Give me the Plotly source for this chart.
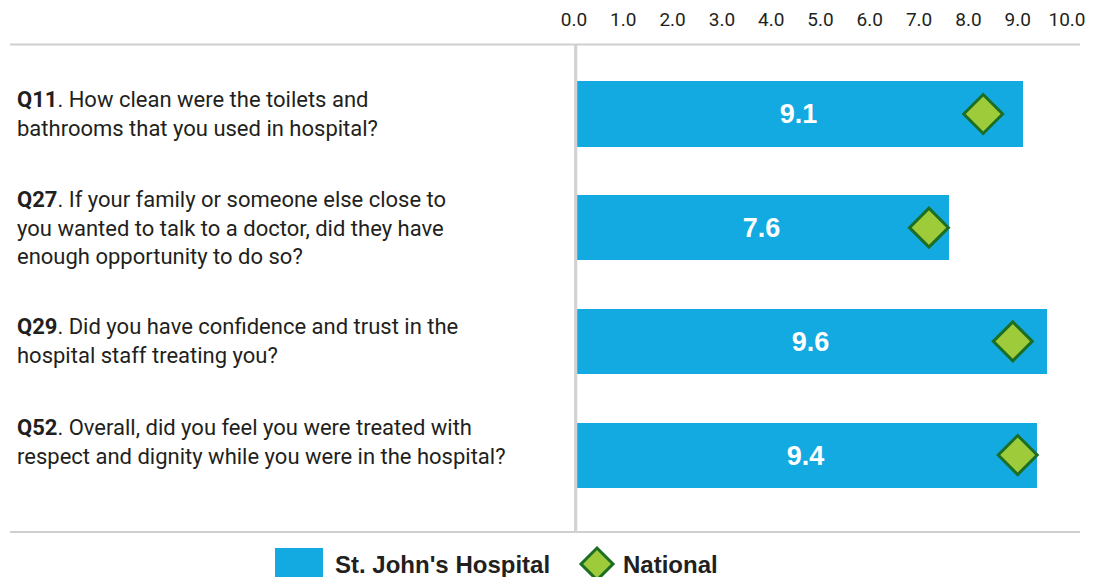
import plotly.graph_objects as go

# Survey results: hospital score vs national average (0-10 scale)
question_codes = ["Q11", "Q27", "Q29", "Q52"]
question_texts = [
    "How clean were the toilets and<br>bathrooms that you used in hospital?",
    "If your family or someone else close to<br>you wanted to talk to a doctor, did they have<br>enough opportunity to do so?",
    "Did you have confidence and trust in the<br>hospital staff treating you?",
    "Overall, did you feel you were treated with<br>respect and dignity while you were in the hospital?",
]
hospital_scores = [9.1, 7.6, 9.6, 9.4]
national_scores = [8.3, 7.2, 8.9, 9.0]
tick_values = [0, 1, 2, 3, 4, 5, 6, 7, 8, 9, 10]

W, H = 1094, 577
BLUE = "#13aae2"
GREEN_FILL = "#9dcb3a"
GREEN_LINE = "#1b6e24"
GREY = "#cfcfcf"
TEXT = "#231f20"
FONT = "Roboto, 'Liberation Sans', Arial, sans-serif"
BOLD_FONT = "'Liberation Sans', Arial, sans-serif"

# pixel helpers for paper coordinates
def px(x):
    return x / W

def py(y):
    return (H - y) / H

plot_top, plot_bottom = 45, 532

fig = go.Figure()

fig.add_trace(go.Bar(
    name="St. John's Hospital",
    y=question_codes,
    x=hospital_scores,
    orientation="h",
    width=0.572,
    marker=dict(color=BLUE, line=dict(width=0)),
    text=[f"{v:.1f}" for v in hospital_scores],
    textposition="inside",
    insidetextanchor="middle",
    textangle=0,
    textfont=dict(family=BOLD_FONT, size=27, color="white", weight="bold"),
    showlegend=False,
    hoverinfo="x+y",
))

fig.add_trace(go.Scatter(
    name="National",
    y=question_codes,
    x=national_scores,
    mode="markers",
    marker=dict(symbol="diamond", size=30, color=GREEN_FILL,
                line=dict(color=GREEN_LINE, width=3)),
    showlegend=False,
))

# question labels on the left
text_shift = [0, 0, 0, 13]
annotations = []
for code, txt, shift in zip(question_codes, question_texts, text_shift):
    annotations.append(dict(
        x=px(15), xref="paper", xanchor="left",
        y=code, yref="y", yanchor="middle", yshift=shift,
        text=f"<b>{code}</b>. {txt}", align="left", showarrow=False,
        font=dict(family=FONT, size=22, color=TEXT),
    ))

# custom legend
legend_y = py(564)
annotations += [
    dict(x=px(333), y=legend_y, xref="paper", yref="paper", xanchor="left", yanchor="middle",
         text="<b>St. John's Hospital</b>", showarrow=False,
         font=dict(family=BOLD_FONT, size=24, color=TEXT)),
    dict(x=px(621), y=legend_y, xref="paper", yref="paper", xanchor="left", yanchor="middle",
         text="<b>National</b>", showarrow=False,
         font=dict(family=BOLD_FONT, size=24, color=TEXT)),
]

cx, cy, r = 597, 564, 16
diamond_path = (f"M {px(cx - r)},{py(cy)} L {px(cx)},{py(cy - r)} "
                f"L {px(cx + r)},{py(cy)} L {px(cx)},{py(cy + r)} Z")

shapes = [
    # top and bottom rules
    dict(type="line", xref="paper", yref="paper", x0=px(10), x1=px(1080),
         y0=py(44.5), y1=py(44.5), line=dict(color=GREY, width=2)),
    dict(type="line", xref="paper", yref="paper", x0=px(10), x1=px(1080),
         y0=py(532), y1=py(532), line=dict(color=GREY, width=2)),
    # zero baseline
    dict(type="line", xref="x", yref="paper", x0=0, x1=0,
         y0=py(plot_bottom), y1=py(plot_top), line=dict(color="#d3d3d3", width=6.5),
         layer="above"),
    # legend swatches
    dict(type="rect", xref="paper", yref="paper", x0=px(275), x1=px(323),
         y0=py(577), y1=py(548), fillcolor=BLUE, line=dict(width=0)),
    dict(type="path", xref="paper", yref="paper", path=diamond_path,
         fillcolor=GREEN_FILL, line=dict(color=GREEN_LINE, width=3)),
]

fig.update_layout(
    width=W, height=H,
    margin=dict(l=0, r=0, t=0, b=0, autoexpand=False),
    paper_bgcolor="white", plot_bgcolor="white",
    bargap=0,
    showlegend=False,
    annotations=annotations,
    shapes=shapes,
    xaxis=dict(
        domain=[px(574), px(1067)],
        range=[0, 10],
        side="top",
        automargin=False,
        tickvals=tick_values,
        ticktext=[f"{v:.1f}" for v in tick_values],
        ticks="outside", ticklen=10, tickcolor="rgba(0,0,0,0)",
        showgrid=False, zeroline=False, showline=False,
        tickfont=dict(family=FONT, size=19, color=TEXT),
        fixedrange=True,
    ),
    yaxis=dict(
        domain=[py(plot_bottom), py(plot_top)],
        type="category",
        automargin=False,
        categoryorder="array", categoryarray=question_codes,
        range=[3.677, -0.607],
        showticklabels=False, showgrid=False, zeroline=False, showline=False,
        ticks="",
        fixedrange=True,
    ),
)

fig.write_html("out.html")
